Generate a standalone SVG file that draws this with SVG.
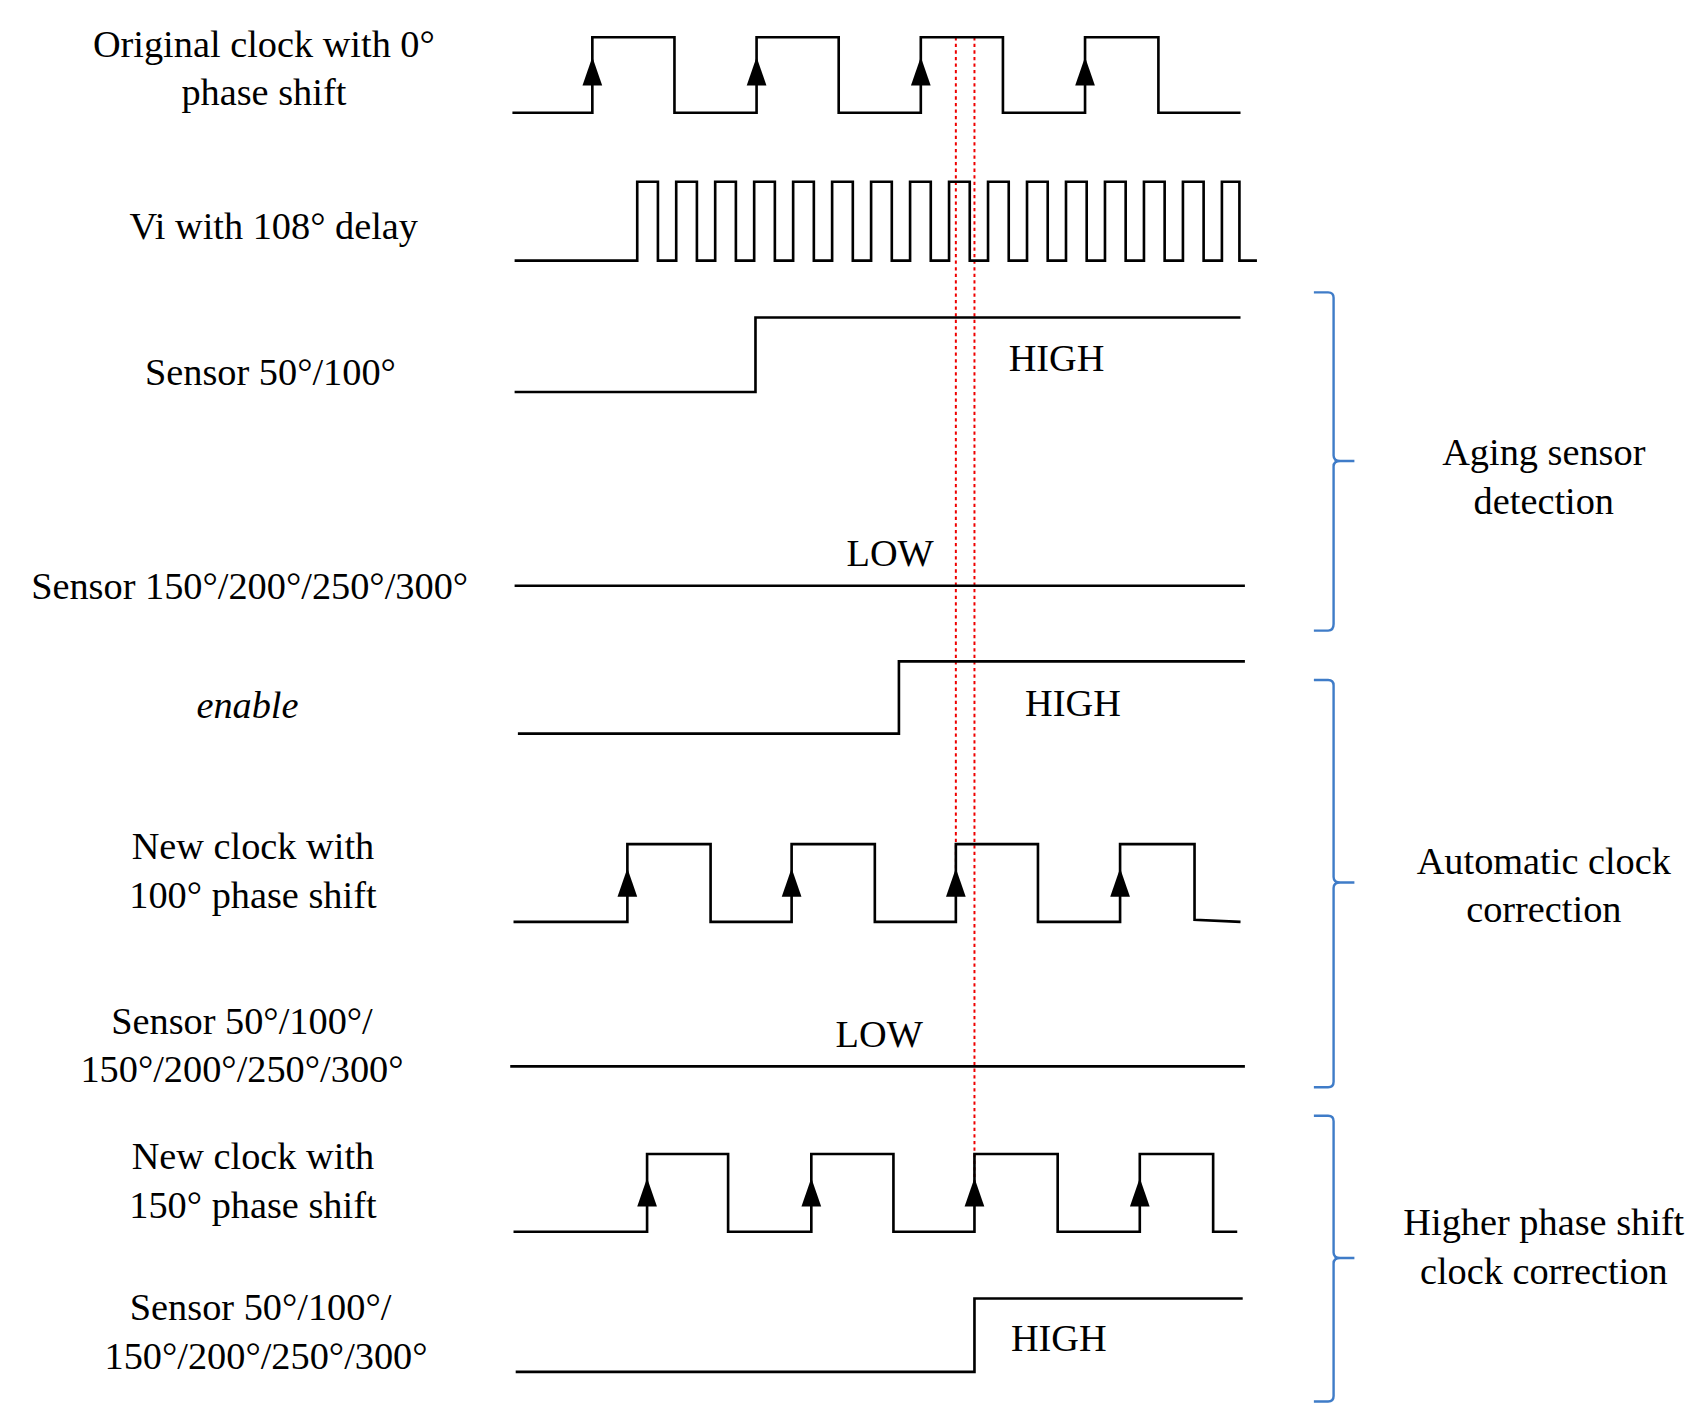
<svg xmlns="http://www.w3.org/2000/svg" width="1708" height="1416" viewBox="0 0 1708 1416">
<defs>
<style>
.w{fill:none;stroke:#000;stroke-width:2.4}
.r{fill:none;stroke:#e00;stroke-width:1.8;stroke-dasharray:3,3}
.b{fill:none;stroke:#3f7cc8;stroke-width:2.2}
text{font-family:"Liberation Serif","Times New Roman",serif;font-size:35px;fill:#000;text-anchor:middle}
</style>
<polygon id="ar" points="0,0 -9,26 9,26" fill="#000"/>
</defs>
<rect width="1708" height="1416" fill="#fff"/>
<g transform="scale(1.0949)">
<g id="connectors">
<path class="r" d="M873,34V795M890,34V1090"/>
</g>
<g id="clk0">
<path class="w" d="M468,103H541V34H616V103H691V34H766V103H841V34H916V103H991V34H1058V103H1133"/>
<use href="#ar" x="541" y="52"/><use href="#ar" x="691" y="52"/><use href="#ar" x="841" y="52"/><use href="#ar" x="991" y="52"/>
<text x="241" y="52">Original clock with 0°</text><text x="241" y="96">phase shift</text>
</g>
<g id="vi">
<path class="w" d="M470,238H582V166H600.9V238H617.6V166H636.5V238H653.2V166H672.1V238H688.8V166H707.7V238H724.4V166H743.3V238H760V166H778.9V238H795.6V166H814.5V238H831.2V166H850.1V238H866.8V166H885.7V238H902.4V166H921.3V238H938V166H956.9V238H973.6V166H992.5V238H1009.2V166H1028.1V238H1044.8V166H1063.7V238H1080.4V166H1099.3V238H1116V166H1132V238H1148"/>
<text x="250" y="218">Vi with 108° delay</text>
</g>
<g id="s1">
<path class="w" d="M470,358H690V290H1133"/>
<text x="247" y="352">Sensor 50°/100°</text><text x="965" y="339">HIGH</text>
</g>
<g id="s2">
<path class="w" d="M470,535H1137"/>
<text x="228" y="547">Sensor 150°/200°/250°/300°</text><text x="813" y="517">LOW</text>
</g>
<g id="en">
<path class="w" d="M473,670H821V604H1137"/>
<text x="226" y="656" font-style="italic">enable</text><text x="980" y="654">HIGH</text>
</g>
<g id="clk100">
<path class="w" d="M469,842H573V771H649V842H723V771H799V842H873V771H948V842H1023V771H1091V840L1133,842"/>
<use href="#ar" x="573" y="793"/><use href="#ar" x="723" y="793"/><use href="#ar" x="873" y="793"/><use href="#ar" x="1023" y="793"/>
<text x="231" y="785">New clock with</text><text x="231" y="829">100° phase shift</text>
</g>
<g id="s3">
<path class="w" d="M466,974H1137"/>
<text x="221" y="944">Sensor 50°/100°/</text><text x="221" y="988">150°/200°/250°/300°</text><text x="803" y="956">LOW</text>
</g>
<g id="clk150">
<path class="w" d="M469,1125H591V1054H665V1125H741V1054H816V1125H890V1054H966V1125H1041V1054H1108V1125H1130"/>
<use href="#ar" x="591" y="1076"/><use href="#ar" x="741" y="1076"/><use href="#ar" x="890" y="1076"/><use href="#ar" x="1041" y="1076"/>
<text x="231" y="1068">New clock with</text><text x="231" y="1112">150° phase shift</text>
</g>
<g id="s4">
<path class="w" d="M471,1253H890V1186H1135"/>
<text x="238" y="1206">Sensor 50°/100°/</text><text x="243" y="1250">150°/200°/250°/300°</text><text x="967" y="1234">HIGH</text>
</g>
<g id="brace1">
<path class="b" d="M1200,267H1213Q1218,267 1218,272V416Q1218,421 1224,421H1237M1224,421Q1218,421 1218,426V570Q1218,576 1213,576H1200"/>
<text x="1410" y="425">Aging sensor</text><text x="1410" y="469">detection</text>
</g>
<g id="brace2">
<path class="b" d="M1200,621H1213Q1218,621 1218,626V801Q1218,806 1224,806H1237M1224,806Q1218,806 1218,811V988Q1218,993 1213,993H1200"/>
<text x="1410" y="798">Automatic clock</text><text x="1410" y="842">correction</text>
</g>
<g id="brace3">
<path class="b" d="M1200,1019H1213Q1218,1019 1218,1024V1144Q1218,1149 1224,1149H1237M1224,1149Q1218,1149 1218,1154V1275Q1218,1280 1213,1280H1200"/>
<text x="1410" y="1128">Higher phase shift</text><text x="1410" y="1173">clock correction</text>
</g>
</g>
</svg>
